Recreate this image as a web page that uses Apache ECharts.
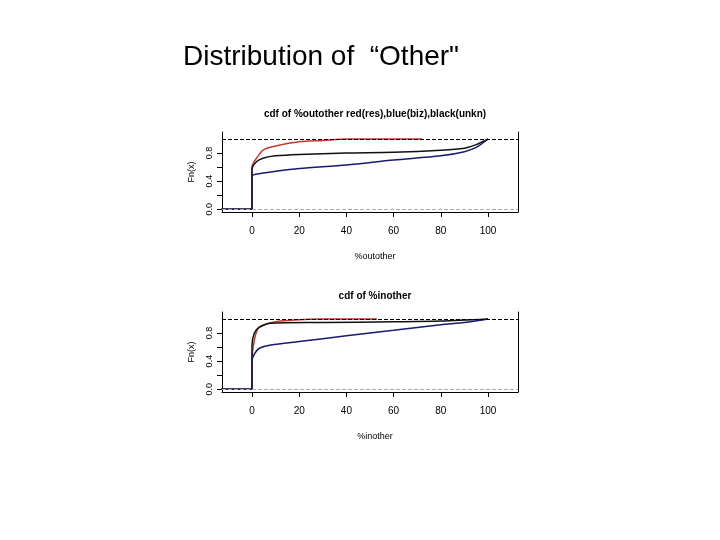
<!DOCTYPE html>
<html>
<head>
<meta charset="utf-8">
<script src="https://cdn.jsdelivr.net/npm/echarts@6/dist/echarts.min.js"></script>
<style>body{margin:0;background:#fff}#charts{width:720px;height:540px}</style>
</head>
<body>
<div id="charts"></div>
<script>
// 数据：上图 %outother
var outRedX = [-13, 0, 0, 2, 5, 10, 20, 30, 40, 72];
var outRedY = [0, 0, 0.6, 0.73, 0.85, 0.9, 0.96, 0.98, 1.0, 1.0];
var outBlackX = [-13, 0, 0, 2, 5, 10, 20, 40, 60, 80, 90, 95, 100];
var outBlackY = [0, 0, 0.57, 0.68, 0.73, 0.76, 0.78, 0.8, 0.81, 0.84, 0.87, 0.92, 1.0];
var outBlueX = [-13, 0, 0, 2, 10, 20, 40, 60, 80, 90, 95, 100];
var outBlueY = [0, 0, 0.47, 0.5, 0.54, 0.58, 0.63, 0.7, 0.76, 0.82, 0.88, 1.0];
// 下图 %inother
var inRedX = [-13, 0, 0, 1, 3, 10, 20, 28, 53];
var inRedY = [0, 0, 0.4, 0.7, 0.88, 0.96, 0.99, 1.0, 1.0];
var inBlackX = [-13, 0, 0, 1, 3, 8, 30, 60, 80, 100];
var inBlackY = [0, 0, 0.62, 0.8, 0.88, 0.94, 0.95, 0.96, 0.97, 1.0];
var inBlueX = [-13, 0, 0, 1, 3, 8, 20, 40, 60, 80, 90, 100];
var inBlueY = [0, 0, 0.4, 0.5, 0.58, 0.63, 0.68, 0.76, 0.84, 0.92, 0.95, 1.0];
var xTicks = [0, 20, 40, 60, 80, 100];
var yTicks = [0, 0.2, 0.4, 0.6, 0.8];
var yLabels = [0, 0.4, 0.8];

function pairs(xs, ys){ return xs.map(function(x, i){ return [x, ys[i]]; }); }

var myChart = echarts.init(document.getElementById('charts'));
var grids = [{left: 222, width: 296, top: 132, height: 80}, {left: 222, width: 296, top: 312, height: 80}];

function xAxisFor(i){
  return {type: 'value', gridIndex: i, min: -12.7, max: 112.7,
    axisLine: {show: true, onZero: false, lineStyle: {color: '#000'}},
    axisTick: {show: true, length: 5, customValues: xTicks, lineStyle: {color: '#000'}},
    axisLabel: {customValues: xTicks, margin: 14, color: '#000', fontSize: 10, fontFamily: 'Liberation Sans',
      formatter: function(v){ return String(v); }},
    splitLine: {show: false}};
}
function yAxisFor(i){
  return {type: 'value', gridIndex: i, min: -0.04, max: 1.1,
    axisLine: {show: true, onZero: false, lineStyle: {color: '#000'}},
    axisTick: {show: true, length: 5, customValues: yTicks, lineStyle: {color: '#000'}},
    axisLabel: {customValues: yLabels, rotate: 90, margin: 8, color: '#000', fontSize: 9, fontFamily: 'Liberation Sans',
      formatter: function(v){ return v.toFixed(1); }},
    splitLine: {show: false},
    name: 'Fn(x)', nameLocation: 'middle', nameGap: 26, nameRotate: 90,
    nameTextStyle: {color: '#000', fontSize: 9, fontFamily: 'Liberation Sans'}};
}
function rightAxis(i){
  return {type: 'value', gridIndex: i, position: 'right', min: -0.04, max: 1.1,
    axisLine: {show: true, onZero: false, lineStyle: {color: '#000'}}, axisTick: {show: false},
    axisLabel: {show: false}, splitLine: {show: false}};
}
function curve(name, xs, ys, color, i){
  return {name: name, type: 'line', xAxisIndex: i, yAxisIndex: i * 2, data: pairs(xs, ys),
    smooth: 0.3, symbol: 'none', lineStyle: {color: color, width: 1.5}};
}
function refLines(i){
  return {type: 'line', xAxisIndex: i, yAxisIndex: i * 2, data: [], markLine: {silent: true, symbol: 'none', label: {show: false},
    data: [{yAxis: 0, lineStyle: {color: '#aaa', type: 'dashed', width: 1}},
           {yAxis: 1, lineStyle: {color: '#000', type: 'dashed', width: 1}}]}};
}

option = {
  animation: false,
  title: [
    {text: 'Distribution of  \u201cOther"', left: 178, top: 38, textStyle: {fontSize: 28, fontWeight: 'normal', color: '#000', fontFamily: 'Liberation Sans'}},
    {text: 'cdf of %outother red(res),blue(biz),black(unkn)', left: 370, textAlign: 'center', top: 104, textStyle: {fontSize: 10, fontWeight: 'bold', color: '#000', fontFamily: 'Liberation Sans'}},
    {text: 'cdf of %inother', left: 370, textAlign: 'center', top: 286, textStyle: {fontSize: 10, fontWeight: 'bold', color: '#000', fontFamily: 'Liberation Sans'}},
    {text: '%outother', left: 370, textAlign: 'center', top: 247, textStyle: {fontSize: 9, fontWeight: 'normal', color: '#000', fontFamily: 'Liberation Sans'}},
    {text: '%inother', left: 370, textAlign: 'center', top: 427, textStyle: {fontSize: 9, fontWeight: 'normal', color: '#000', fontFamily: 'Liberation Sans'}}
  ],
  grid: grids,
  xAxis: [xAxisFor(0), xAxisFor(1)],
  yAxis: [yAxisFor(0), rightAxis(0), yAxisFor(1), rightAxis(1)],
  series: [
    refLines(0), refLines(1),
    curve('res', outRedX, outRedY, '#c0392b', 0),
    curve('unkn', outBlackX, outBlackY, '#111', 0),
    curve('biz', outBlueX, outBlueY, '#1a1a6e', 0),
    curve('res', inRedX, inRedY, '#c0392b', 1),
    curve('unkn', inBlackX, inBlackY, '#111', 1),
    curve('biz', inBlueX, inBlueY, '#1a1a6e', 1)
  ]
};
myChart.setOption(option);
</script>
</body>
</html>
